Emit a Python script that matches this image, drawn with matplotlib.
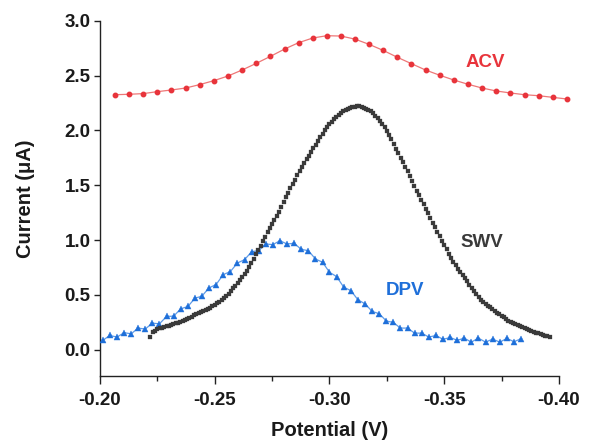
import matplotlib
matplotlib.use("Agg")
import matplotlib.pyplot as plt
from matplotlib.ticker import MultipleLocator, FormatStrFormatter

plt.rcParams['font.family'] = ['Liberation Sans', 'DejaVu Sans']

# ---------------- data ----------------
acv_potential = [-0.2065, -0.2127, -0.2188, -0.2250, -0.2311, -0.2373, -0.2434, -0.2496,
                 -0.2557, -0.2619, -0.2680, -0.2742, -0.2804, -0.2865, -0.2927, -0.2988,
                 -0.3050, -0.3111, -0.3173, -0.3234, -0.3296, -0.3357, -0.3419, -0.3481,
                 -0.3542, -0.3604, -0.3665, -0.3727, -0.3788, -0.3850, -0.3911, -0.3973,
                 -0.4034]
acv_current = [2.325, 2.329, 2.335, 2.353, 2.368, 2.386, 2.417, 2.453, 2.495, 2.550,
               2.610, 2.674, 2.741, 2.799, 2.842, 2.863, 2.860, 2.832, 2.784, 2.729,
               2.666, 2.608, 2.550, 2.502, 2.459, 2.420, 2.386, 2.359, 2.341, 2.325,
               2.316, 2.301, 2.286]

dpv_potential = [-0.2012, -0.2043, -0.2074, -0.2105, -0.2136, -0.2166, -0.2197, -0.2228,
                 -0.2259, -0.2290, -0.2321, -0.2352, -0.2383, -0.2414, -0.2444, -0.2475,
                 -0.2506, -0.2537, -0.2568, -0.2599, -0.2630, -0.2661, -0.2692, -0.2722,
                 -0.2753, -0.2784, -0.2815, -0.2846, -0.2877, -0.2908, -0.2939, -0.2970,
                 -0.3000, -0.3031, -0.3062, -0.3093, -0.3124, -0.3155, -0.3186, -0.3217,
                 -0.3248, -0.3278, -0.3309, -0.3340, -0.3371, -0.3402, -0.3433, -0.3464,
                 -0.3495, -0.3526, -0.3557, -0.3587, -0.3618, -0.3649, -0.3680, -0.3711,
                 -0.3742, -0.3773, -0.3804, -0.3835]
dpv_current = [0.085, 0.130, 0.115, 0.155, 0.145, 0.197, 0.188, 0.242, 0.236, 0.303,
               0.306, 0.373, 0.394, 0.470, 0.488, 0.564, 0.594, 0.685, 0.712, 0.791,
               0.821, 0.894, 0.903, 0.964, 0.958, 0.994, 0.964, 0.970, 0.915, 0.903,
               0.827, 0.797, 0.706, 0.667, 0.570, 0.539, 0.455, 0.418, 0.349, 0.328,
               0.261, 0.249, 0.197, 0.197, 0.151, 0.151, 0.115, 0.130, 0.094, 0.112,
               0.085, 0.106, 0.069, 0.106, 0.069, 0.097, 0.069, 0.103, 0.073, 0.100]

swv_potential = [
    -0.222, -0.223, -0.224, -0.225, -0.226, -0.227, -0.228, -0.229, -0.230, -0.231,
    -0.232, -0.233, -0.234, -0.235, -0.236, -0.237, -0.238, -0.239, -0.240, -0.241,
    -0.242, -0.243, -0.244, -0.245, -0.246, -0.247, -0.248, -0.249, -0.250, -0.251,
    -0.252, -0.253, -0.254, -0.255, -0.256, -0.257, -0.258, -0.259, -0.260, -0.261,
    -0.262, -0.263, -0.264, -0.265, -0.266, -0.267, -0.268, -0.269, -0.270, -0.271,
    -0.272, -0.273, -0.274, -0.275, -0.276, -0.277, -0.278, -0.279, -0.280, -0.281,
    -0.282, -0.283, -0.284, -0.285, -0.286, -0.287, -0.288, -0.289, -0.290, -0.291,
    -0.292, -0.293, -0.294, -0.295, -0.296, -0.297, -0.298, -0.299, -0.300, -0.301,
    -0.302, -0.303, -0.304, -0.305, -0.306, -0.307, -0.308, -0.309, -0.310, -0.311,
    -0.312, -0.313, -0.314, -0.315, -0.316, -0.317, -0.318, -0.319, -0.320, -0.321,
    -0.322, -0.323, -0.324, -0.325, -0.326, -0.327, -0.328, -0.329, -0.330, -0.331,
    -0.332, -0.333, -0.334, -0.335, -0.336, -0.337, -0.338, -0.339, -0.340, -0.341,
    -0.342, -0.343, -0.344, -0.345, -0.346, -0.347, -0.348, -0.349, -0.350, -0.351,
    -0.352, -0.353, -0.354, -0.355, -0.356, -0.357, -0.358, -0.359, -0.360, -0.361,
    -0.362, -0.363, -0.364, -0.365, -0.366, -0.367, -0.368, -0.369, -0.370, -0.371,
    -0.372, -0.373, -0.374, -0.375, -0.376, -0.377, -0.378, -0.379, -0.380, -0.381,
    -0.382, -0.383, -0.384, -0.385, -0.386, -0.387, -0.388, -0.389, -0.390, -0.391,
    -0.392, -0.393, -0.394, -0.395, -0.396]
swv_current = [
    0.115, 0.160, 0.172, 0.185, 0.195, 0.200, 0.207, 0.213, 0.220, 0.226,
    0.232, 0.239, 0.246, 0.254, 0.262, 0.270, 0.280, 0.290, 0.301, 0.313,
    0.324, 0.333, 0.341, 0.350, 0.360, 0.372, 0.384, 0.397, 0.410, 0.424,
    0.438, 0.453, 0.470, 0.490, 0.512, 0.536, 0.560, 0.584, 0.608, 0.633,
    0.660, 0.690, 0.722, 0.755, 0.790, 0.830, 0.870, 0.910, 0.950, 0.990,
    1.030, 1.070, 1.110, 1.148, 1.186, 1.223, 1.260, 1.302, 1.345, 1.388,
    1.430, 1.470, 1.510, 1.550, 1.590, 1.627, 1.663, 1.699, 1.735, 1.770,
    1.804, 1.837, 1.870, 1.903, 1.936, 1.968, 2.000, 2.028, 2.055, 2.080,
    2.105, 2.125, 2.144, 2.162, 2.178, 2.188, 2.197, 2.206, 2.213, 2.217,
    2.220, 2.218, 2.212, 2.204, 2.195, 2.184, 2.172, 2.154, 2.134, 2.112,
    2.088, 2.058, 2.027, 1.994, 1.960, 1.918, 1.876, 1.834, 1.792, 1.751,
    1.710, 1.670, 1.630, 1.585, 1.540, 1.495, 1.450, 1.408, 1.367, 1.325,
    1.284, 1.242, 1.200, 1.157, 1.115, 1.074, 1.033, 0.992, 0.952, 0.914,
    0.876, 0.838, 0.800, 0.770, 0.740, 0.710, 0.682, 0.652, 0.622, 0.590,
    0.560, 0.533, 0.506, 0.480, 0.456, 0.438, 0.420, 0.403, 0.387, 0.370,
    0.354, 0.338, 0.323, 0.309, 0.295, 0.280, 0.266, 0.255, 0.245, 0.235,
    0.225, 0.216, 0.206, 0.197, 0.188, 0.180, 0.171, 0.163, 0.154, 0.148,
    0.141, 0.134, 0.127, 0.121, 0.115]

labels = ["ACV", "SWV", "DPV"]
label_pos = [(-0.3678, 2.617), (-0.3663, 0.980), (-0.3329, 0.540)]
x_ticks = [-0.20, -0.25, -0.30, -0.35, -0.40]
y_ticks = [0.0, 0.5, 1.0, 1.5, 2.0, 2.5, 3.0]

# ---------------- plot ----------------
red, red_line = '#E8343B', '#EE7777'
blue, blue_line = '#1E6FD9', '#5E9BE8'
gray = '#3A3A3A'

fig = plt.figure(figsize=(5.97, 4.43), dpi=100)
ax = fig.add_axes([0.1675, 0.1512, 0.7688, 0.8021])

ax.plot(acv_potential, acv_current, color=red_line, lw=0.9, zorder=2, clip_on=False)
ax.plot(acv_potential, acv_current, ls='none', marker='o', ms=3.2, color=red,
        mec=red, zorder=3, clip_on=False)

ax.plot(dpv_potential, dpv_current, color=blue_line, lw=0.9, zorder=2)
ax.plot(dpv_potential, dpv_current, ls='none', marker='^', ms=4.2, color=blue,
        mec=blue, mew=0.3, zorder=3)

ax.plot(swv_potential, swv_current, ls='none', marker='s', ms=2.5, color=gray,
        mec=gray, mew=0.2, zorder=4)

colors = [red, gray, blue]
for lab, (lx, ly), c in zip(labels, label_pos, colors):
    ax.text(lx, ly, lab, color=c, fontsize=13.5, fontweight='bold',
            ha='center', va='center')

ax.set_xlim(-0.20, -0.40)
ax.set_ylim(-0.24, 3.0)
ax.set_xticks(x_ticks)
ax.set_yticks(y_ticks)
ax.xaxis.set_minor_locator(MultipleLocator(0.025))
ax.xaxis.set_major_formatter(FormatStrFormatter('%.2f'))
ax.yaxis.set_major_formatter(FormatStrFormatter('%.1f'))

for s in ['top', 'right']:
    ax.spines[s].set_visible(False)
for s in ['left', 'bottom']:
    ax.spines[s].set_linewidth(1.0)
    ax.spines[s].set_color('#222222')

ax.tick_params(axis='x', which='major', direction='out', length=5.5, width=1,
               labelsize=13.5, colors='#222222', pad=6)
ax.tick_params(axis='y', which='major', direction='out', length=4.3, width=1,
               labelsize=13.5, colors='#222222', pad=2.5)
ax.tick_params(axis='x', which='minor', direction='out', length=3.5, width=1,
               colors='#222222')
for t in ax.get_xticklabels() + ax.get_yticklabels():
    t.set_fontweight('bold')
    t.set_color('#1a1a1a')

ax.set_xlabel('Potential (V)', fontsize=14.5, fontweight='bold', labelpad=9,
              color='#1a1a1a')
ax.set_ylabel('Current (\u03bcA)', fontsize=14.5, fontweight='bold', labelpad=21,
              color='#1a1a1a')

fig.savefig('out.png', dpi=100)
